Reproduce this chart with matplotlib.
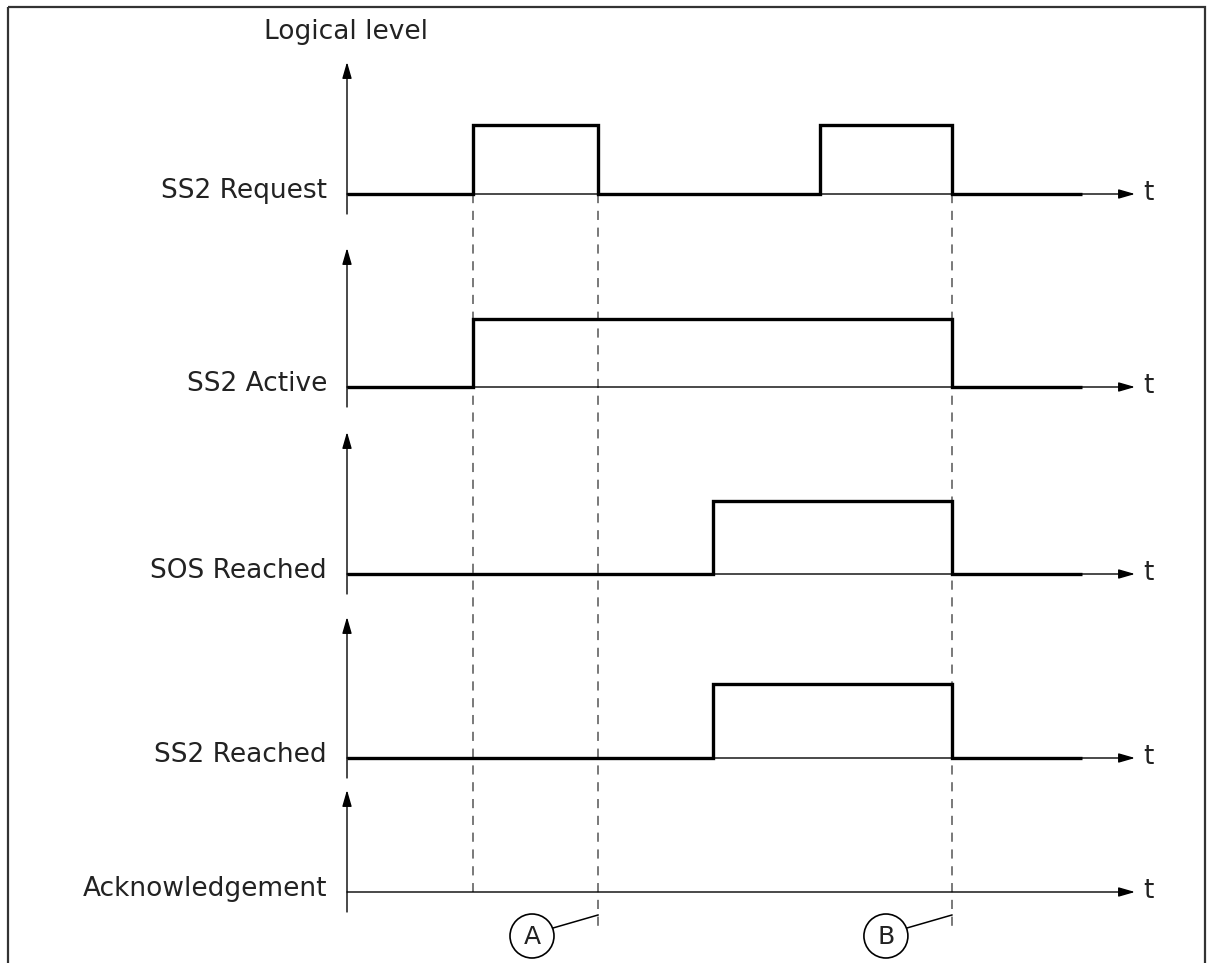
import matplotlib
matplotlib.use("Agg")
import matplotlib.pyplot as plt
from matplotlib.patches import Ellipse, Rectangle

# signal names and their high intervals (time units)
signals = ["SS2 Request", "SS2 Active", "SOS Reached", "SS2 Reached", "Acknowledgement"]
ss2_request = [(5.0, 10.0), (18.85, 24.1)]
ss2_active = [(5.0, 24.1)]
sos_reached = [(14.6, 24.1)]
ss2_reached = [(14.6, 24.1)]
acknowledgement = []
highs = [ss2_request, ss2_active, sos_reached, ss2_reached, acknowledgement]
t_end = 29.3

# event markers (dashed lines)
marker_times = [5.0, 10.0, 24.1]
marker_labels = {10.0: "A", 24.1: "B"}

# layout (pixels, y down)
W, H = 1214, 963
PX = 25.1                      # pixels per time unit
X0 = 347                       # pixel of t = 0
baselines = [194, 387, 574, 758, 892]
high_off = [69, 68, 73, 74, 70]
tips = [62, 248, 432, 617, 790]
axis_tip = 1135 - X0
txt_col = "#222222"
fs = 19

fig = plt.figure(figsize=(W / 100, H / 100), dpi=100)
ax = fig.add_axes([0, 0, 1, 1])
ax.set_xlim(-X0 / PX, (W - X0) / PX)
ax.set_ylim(H, 0)
ax.axis("off")

# frame
ax.add_patch(Rectangle((-X0 / PX + 8 / PX, 7), (1205 - 8) / PX, 1000,
                       fill=False, ec="#333333", lw=1.6))

ax.text(-X0 / PX + 264 / PX, 32, "Logical level", fontsize=fs,
        color=txt_col, ha="left", va="center")

arrow = dict(arrowstyle="-|>,head_length=0.45,head_width=0.13",
             color="black", lw=1.0, mutation_scale=22,
             shrinkA=0, shrinkB=0)

# dashed event lines (behind the waveforms)
for t in marker_times:
    bottom = 927 if t in marker_labels else baselines[-1]
    ax.plot([t, t], [baselines[0], bottom], color="#555555", lw=1.1,
            dashes=(6, 5), zorder=1)

for name, iv, yb, dh, tip in zip(signals, highs, baselines, high_off, tips):
    # vertical axis
    ax.annotate("", xy=(0, tip), xytext=(0, yb + 20), arrowprops=arrow)
    # time axis
    ax.annotate("", xy=(axis_tip / PX, yb), xytext=(0, yb), arrowprops=arrow)
    ax.text((axis_tip + 8) / PX, yb - 1, "t", fontsize=fs, color=txt_col,
            ha="left", va="center")
    ax.text(-20 / PX, yb - 3, name, fontsize=fs, color=txt_col,
            ha="right", va="center")
    # waveform
    xs, ys = [0], [yb]
    for a, b in iv:
        xs += [a, a, b, b]
        ys += [yb, yb - dh, yb - dh, yb]
    xs.append(t_end)
    ys.append(yb)
    if iv:
        ax.plot(xs, ys, color="black", lw=2.4, solid_joinstyle="miter",
                solid_capstyle="butt", zorder=4)

# callouts
r = 22
for t, lab in marker_labels.items():
    cx = t - 66 / PX
    cy = 936
    ax.add_patch(Ellipse((cx, cy), 2 * r / PX, 2 * r, fill=False,
                         ec="black", lw=1.2))
    ax.text(cx, cy + 1, lab, fontsize=18, color=txt_col,
            ha="center", va="center")
    ax.plot([cx + 21 / PX, t], [cy - 8, 915], color="black", lw=1.1)

fig.savefig("out.png", dpi=100)
